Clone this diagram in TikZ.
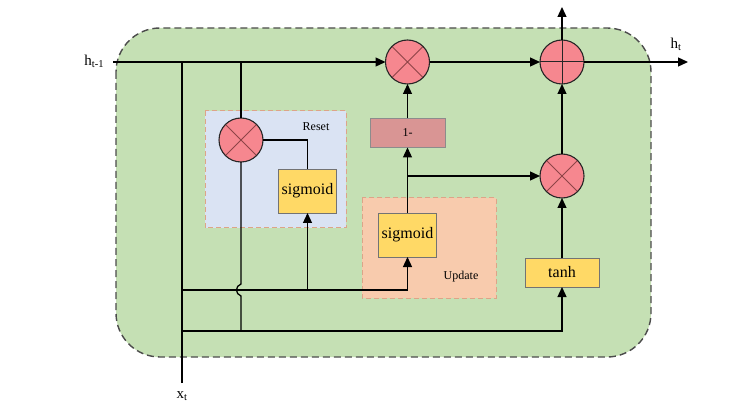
\documentclass[tikz,border=0pt]{standalone}
\usepackage{fontspec}
\setmainfont{Liberation Serif}
\usetikzlibrary{arrows.meta}
\definecolor{cellgreen}{HTML}{C5E0B4}
\definecolor{resetblue}{HTML}{DAE3F3}
\definecolor{updatepeach}{HTML}{F8CBAD}
\definecolor{gatepink}{HTML}{F6878F}
\definecolor{gateyellow}{HTML}{FFD966}
\definecolor{onered}{HTML}{D99594}
\definecolor{regionedge}{HTML}{DDA488}
\definecolor{xred}{HTML}{8E4447}
\newcommand\boxfont{\fontsize{16}{18}\selectfont}
\newcommand\tagfont{\fontsize{12}{14}\selectfont}
\begin{document}
\begin{tikzpicture}[x=1pt,y=-1pt,inner sep=0pt,outer sep=0pt,line width=1.3pt,
>={Triangle[length=10pt,width=9pt]},
cell/.style={draw=black!70,fill=cellgreen,line width=1.4pt,dash pattern=on 7pt off 4pt,rounded corners=44pt},
region/.style={draw=regionedge,line width=1pt,dash pattern=on 5pt off 3pt},
gate/.style={draw=black!85,circle,fill=gatepink,minimum size=44pt,line width=1.1pt},
multgate/.style={gate,path picture={\draw[xred,line width=0.9pt] (path picture bounding box.north west) -- (path picture bounding box.south east) (path picture bounding box.north east) -- (path picture bounding box.south west);}},
plusgate/.style={gate,path picture={\draw[black!85,line width=1pt] (path picture bounding box.north) -- (path picture bounding box.south) (path picture bounding box.west) -- (path picture bounding box.east);}},
actbox/.style={draw=black!55,rectangle,fill=gateyellow,minimum width=58pt,minimum height=44pt,line width=0.8pt,font=\boxfont},
onebox/.style={draw=black!45,rectangle,fill=onered,minimum width=75pt,minimum height=29pt,line width=0.8pt,font=\tagfont}]
\useasboundingbox (0,0) rectangle (755,406);
\draw[cell] (116,28) rectangle (651,357);
\draw[region,fill=resetblue] (205,111) rectangle (346,228);
\draw[region,fill=updatepeach] (362,198) rectangle (496,298);
\draw (316,127) node[font=\tagfont] (resetlbl) {Reset};
\draw (461,277) node[font=\tagfont] (updatelbl) {Update};
\draw (407.5,62) node[multgate] (m1) {};
\draw (562,62) node[plusgate] (add) {};
\draw (241,140) node[multgate] (mr) {};
\draw (562,176) node[multgate] (mz) {};
\draw (307.5,191) node[actbox] (sigr) {sigmoid};
\draw (407.5,235) node[actbox] (sigz) {sigmoid};
\draw (407.5,133) node[onebox] (oneminus) {1-};
\draw (562,272.5) node[actbox,minimum width=74pt,minimum height=29pt] (tanh) {tanh};
\draw (104,61) node[anchor=east,font=\fontsize{15}{17}\selectfont] (hprev) {h\textsubscript{t-1}};
\draw (676,44) node[font=\fontsize{15}{17}\selectfont] (hnext) {h\textsubscript{t}};
\draw (182,396) node[font=\fontsize{15}{17}\selectfont] (xin) {x\textsubscript{t}};
\coordinate (hin) at (113,62);
\coordinate (hout) at (688,62);
\coordinate (up) at (562,7);
\coordinate (xt) at (182,383);
\coordinate (xtop) at (182,62);
\coordinate (rtop) at (241,62);
\coordinate (rbot) at (241,331);
\coordinate (bus1) at (182,290);
\coordinate (bus2) at (182,331);
\coordinate (zsplit) at (407.5,176);
\draw[->] (hin) -- (m1);
\draw[->] (m1) -- (add);
\draw[->] (add.east) -- (hout);
\draw[->] (add.north) -- (up);
\draw (xt) -- (xtop);
\draw (rtop) -- (mr);
\draw (mr.east) -| (sigr.north);
\draw (mr.south) -- (241,284) .. controls (235,286) and (235,294) .. (241,296) -- (rbot);
\draw[->] (bus1) -| (sigz.south);
\draw[->] (sigr.south |- bus1) -- (sigr.south);
\draw[->] (bus2) -| (tanh.south);
\draw[->] (tanh) -- (mz);
\draw[->] (mz) -- (add);
\draw[->] (sigz) -- (oneminus);
\draw[->] (oneminus) -- (m1);
\draw[->] (zsplit) -- (mz);
\end{tikzpicture}
\end{document}
